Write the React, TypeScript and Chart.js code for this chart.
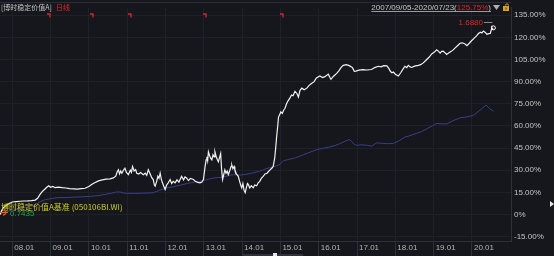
import React, { useEffect, useRef } from 'react';
import { Chart, registerables } from 'chart.js';
Chart.register(...registerables);

// ---------- data ----------
const fundYears = [
  2007.68, 2007.72, 2007.76, 2007.80, 2007.86, 2007.92, 2008.00, 2008.10, 2008.20, 2008.30,
  2008.40, 2008.50, 2008.60, 2008.66, 2008.72, 2008.78, 2008.84, 2008.90, 2008.95, 2009.00,
  2009.06, 2009.12, 2009.20, 2009.30, 2009.40, 2009.50, 2009.60, 2009.70, 2009.80, 2009.90,
  2010.00, 2010.08, 2010.15, 2010.25, 2010.35, 2010.45, 2010.55, 2010.64, 2010.70, 2010.74,
  2010.77, 2010.80, 2010.83, 2010.86, 2010.90, 2010.94, 2010.98, 2011.03, 2011.08, 2011.11,
  2011.14, 2011.18, 2011.22, 2011.25, 2011.30, 2011.35, 2011.42, 2011.47, 2011.51, 2011.55,
  2011.60, 2011.64, 2011.68, 2011.71, 2011.73, 2011.77, 2011.80, 2011.83, 2011.86, 2011.89,
  2011.92, 2011.95, 2011.99, 2012.03, 2012.07, 2012.12, 2012.16, 2012.20, 2012.25, 2012.30,
  2012.35, 2012.42, 2012.47, 2012.51, 2012.55, 2012.60, 2012.65, 2012.73, 2012.78, 2012.84,
  2012.90, 2012.95, 2012.99, 2013.03, 2013.06, 2013.08, 2013.10, 2013.12, 2013.15, 2013.18,
  2013.21, 2013.24, 2013.27, 2013.29, 2013.32, 2013.35, 2013.38, 2013.41, 2013.44, 2013.46,
  2013.49, 2013.52, 2013.55, 2013.58, 2013.61, 2013.64, 2013.68, 2013.71, 2013.73, 2013.76,
  2013.79, 2013.81, 2013.85, 2013.90, 2013.94, 2013.97, 2013.99, 2014.02, 2014.05, 2014.08,
  2014.11, 2014.14, 2014.16, 2014.20, 2014.24, 2014.29, 2014.33, 2014.38, 2014.42, 2014.46,
  2014.50, 2014.55, 2014.60, 2014.65, 2014.70, 2014.73, 2014.78, 2014.81, 2014.85, 2014.88,
  2014.90, 2014.93, 2014.95, 2014.98, 2015.01, 2015.05, 2015.08, 2015.12, 2015.16, 2015.20,
  2015.25, 2015.29, 2015.33, 2015.38, 2015.43, 2015.47, 2015.51, 2015.56, 2015.62, 2015.69,
  2015.75, 2015.82, 2015.88, 2015.94, 2016.03, 2016.10, 2016.16, 2016.22, 2016.25, 2016.29,
  2016.32, 2016.38, 2016.47, 2016.53, 2016.58, 2016.64, 2016.72, 2016.78, 2016.82, 2016.88,
  2016.93, 2016.97, 2017.05, 2017.16, 2017.25, 2017.38, 2017.46, 2017.56, 2017.63, 2017.70,
  2017.78, 2017.83, 2017.87, 2017.91, 2017.95, 2018.00, 2018.08, 2018.14, 2018.20, 2018.25,
  2018.30, 2018.34, 2018.39, 2018.43, 2018.50, 2018.60, 2018.66, 2018.73, 2018.80, 2018.88,
  2018.95, 2019.02, 2019.08, 2019.13, 2019.17, 2019.21, 2019.25, 2019.30, 2019.34, 2019.40,
  2019.46, 2019.51, 2019.57, 2019.63, 2019.69, 2019.75, 2019.82, 2019.87, 2019.93, 2019.99,
  2020.06, 2020.12, 2020.17, 2020.22, 2020.26, 2020.30, 2020.34, 2020.39, 2020.44, 2020.48,
  2020.51, 2020.52, 2020.54, 2020.56,
];
const fundReturn = [
  0, 2.5, 4.5, 5.5, 6.5, 7.5, 8.5, 8.8, 9.0, 9.2,
  9.3, 9.5, 9.8, 11, 13.5, 15.5, 17, 18.5, 19.5, 18.5,
  19, 18.2, 18.6, 18.2, 18.0, 17.6, 17.4, 17.2, 17.5, 17.8,
  19, 20.5, 21.5, 22.8, 23.5, 24.0, 24.2, 24.8, 26, 29,
  30.3, 27.5, 29.5, 28, 30, 31.4, 28.5, 27, 30, 28.5,
  32.5, 29.5, 30.5, 28, 27.5, 28.5, 27, 28, 26.5, 30.3,
  27.5, 25, 23.7, 20, 19.2, 22.5, 26, 24.5, 28, 24,
  21.5, 19.5, 17, 20, 21.5, 23.7, 21, 22.5, 21.5, 23.5,
  22, 25.9, 23.5, 25.5, 24.8, 23, 24.5, 23.7, 22.5, 21.8,
  21.5, 22, 23.7, 32, 37, 39.2, 36.5, 42.5, 40, 38,
  37, 40.5, 39, 42.5, 39.5, 37.5, 35.8, 38.5, 41.3, 32,
  23.7, 27, 30.3, 28, 29.5, 27, 30, 32.5, 33.6, 31,
  32.5, 30.3, 27.5, 25.9, 22, 19.5, 18.1, 21, 16.5, 14.8,
  18, 21, 20.4, 18, 19.5, 18.1, 20, 19.5, 21.5, 22.5,
  24.5, 25.9, 27.5, 28, 29.5, 30.3, 31.5, 32.5, 38, 46,
  52.4, 60, 66, 67.5, 69.5, 68.5, 70.5, 72, 75, 77,
  79, 81, 80.5, 83.4, 82, 79.6, 84, 85.6, 84.5, 85.6,
  87.5, 88.9, 90, 92.5, 93.8, 92.8, 93.4, 94.5, 95.1, 93,
  91.6, 93.5, 95.6, 97.5, 99.5, 101, 101.5, 101, 100.5, 99.5,
  97, 97.1, 97.8, 98.2, 97.9, 98.2, 99.5, 100.4, 100, 100.8,
  100.7, 99, 97, 96, 96.5, 95, 93.8, 96, 98.5, 100.4,
  99.5, 101, 100, 99.6, 100.5, 101, 101.5, 102.7, 104.5, 106.5,
  108.8, 110, 111.5, 110.5, 109.3, 110.5, 110.6, 109.5, 108.4, 109.5,
  110.5, 111.5, 113, 114.5, 116, 116.3, 115.5, 114.4, 116, 117.7,
  119.5, 121, 122.6, 123.5, 123, 124.3, 123.5, 122.1, 122.5, 122.6,
  125.5, 126.6, 125.5, 125.75,
];
const benchYears = [
  2007.68, 2007.75, 2007.85, 2008.00, 2008.15, 2008.30, 2008.45, 2008.55, 2008.65, 2008.75,
  2008.85, 2008.95, 2009.06, 2009.20, 2009.40, 2009.60, 2009.80, 2010.00, 2010.15, 2010.29,
  2010.45, 2010.60, 2010.72, 2010.81, 2010.90, 2010.99, 2011.20, 2011.40, 2011.55, 2011.68,
  2011.85, 2012.03, 2012.20, 2012.40, 2012.60, 2012.80, 2012.90, 2013.05, 2013.20, 2013.35,
  2013.50, 2013.65, 2013.77, 2013.95, 2014.10, 2014.25, 2014.47, 2014.60, 2014.75, 2014.90,
  2014.99, 2015.08, 2015.25, 2015.40, 2015.55, 2015.70, 2015.85, 2015.95, 2016.10, 2016.25,
  2016.43, 2016.55, 2016.70, 2016.80, 2016.86, 2016.93, 2016.99, 2017.10, 2017.25, 2017.38,
  2017.45, 2017.51, 2017.65, 2017.80, 2017.95, 2018.10, 2018.25, 2018.34, 2018.50, 2018.69,
  2018.85, 2019.00, 2019.08, 2019.20, 2019.34, 2019.50, 2019.69, 2019.85, 2020.04, 2020.15,
  2020.25, 2020.37, 2020.45, 2020.56,
];
const benchReturn = [
  0, 1, 2, 3, 4, 4.5, 5.5, 6, 7.5, 9,
  10, 10.5, 11, 11.5, 11.5, 11.8, 12, 12.3, 12.6, 13,
  13.8, 14.5, 15.3, 15.3, 14.6, 14.4, 14.3, 14.5, 14.6, 14.8,
  16.5, 18, 18.8, 20, 21.2, 22.2, 22.5, 23.5, 24.5, 25,
  25.3, 26.5, 27, 26.8, 27.2, 28, 29.5, 30.8, 32, 33,
  34, 36.5, 37.5, 38.5, 40, 41.5, 43, 44, 44.8, 45.5,
  46.8, 48, 49.8, 50.8, 49.5, 47.5, 46.9, 47.2, 47, 46.3,
  47.5, 48.5, 48.3, 48, 48.2, 50, 52.5, 53.1, 54.5, 56.2,
  58.5, 60.5, 61.7, 61.5, 61.3, 63.5, 65.5, 66, 67.2, 69.5,
  71.5, 74.2, 72, 70,
];
const xTickYears = [2008, 2009, 2010, 2011, 2012, 2013, 2014, 2015, 2016, 2017, 2018, 2019, 2020];
const xTickLabels = ['08.01', '09.01', '10.01', '11.01', '12.01', '13.01', '14.01', '15.01', '16.01', '17.01', '18.01', '19.01', '20.01'];
const yTickValues = [-15, 0, 15, 30, 45, 60, 75, 90, 105, 120, 135];
const yTickLabels = ['-15.00%', '0%', '15.00%', '30.00%', '45.00%', '60.00%', '75.00%', '90.00%', '105.00%', '120.00%', '135.00%'];
const dividendYears = [2008.95, 2010.07, 2011.07, 2013.03, 2015.04];
const fundName = '博时稳定价值A';
const periodLabel = '日线';
const benchName = '博时稳定价值A基准 (050106BI.WI)';
const periodText = '2007/09/05-2020/07/23';
const periodReturn = '125.75%';
const lastNav = '1.6880';
const benchNav = '0.7435';

const BG = '#15171c';
const NUM_FONT = '"Liberation Sans", Arial, sans-serif';
const CJK_FONT = '"Noto Sans CJK SC", "Noto Sans", sans-serif';

const overlay = {
  id: 'overlay',
  beforeDraw(chart: any) {
    const { ctx, width, height } = chart;
    ctx.save();
    ctx.fillStyle = BG;
    ctx.fillRect(0, 0, width, height);
    ctx.restore();
  },
  afterDraw(chart: any) {
    const { ctx, chartArea } = chart;
    const xs = chart.scales.x;
    ctx.save();
    // top border
    ctx.strokeStyle = '#2a2d35';
    ctx.lineWidth = 1;
    ctx.beginPath();
    ctx.moveTo(0, 2.5);
    ctx.lineTo(chartArea.right, 2.5);
    ctx.stroke();

    // header
    ctx.textBaseline = 'middle';
    ctx.font = `7px ${CJK_FONT}`;
    ctx.fillStyle = '#c4c4c4';
    const h1 = '[' + fundName + ']';
    ctx.fillText(h1, 1, 7.5);
    const w1 = ctx.measureText(h1).width;
    ctx.fillStyle = '#e0262a';
    ctx.fillText(periodLabel, 1 + w1 + 4, 7.5);

    // period text on right
    ctx.font = `8px ${NUM_FONT}`;
    const parts = [periodText + '(', periodReturn, ')'];
    const widths = parts.map((p) => ctx.measureText(p).width);
    const total = widths.reduce((a, b) => a + b, 0);
    let px = 491 - total;
    const startX = px;
    const colors = ['#c4c4c4', '#e0262a', '#c4c4c4'];
    parts.forEach((p, i) => {
      ctx.fillStyle = colors[i];
      ctx.fillText(p, px, 7.5);
      px += widths[i];
    });
    ctx.strokeStyle = '#9a9a9a';
    ctx.beginPath();
    ctx.moveTo(startX, 11.5);
    ctx.lineTo(491, 11.5);
    ctx.stroke();
    // down triangle
    ctx.fillStyle = '#b0b0b0';
    ctx.beginPath();
    ctx.moveTo(493, 5);
    ctx.lineTo(500, 5);
    ctx.lineTo(496.5, 10);
    ctx.closePath();
    ctx.fill();
    // lock icon
    ctx.fillStyle = '#d9a21c';
    ctx.fillRect(503, 6, 6, 5);
    ctx.strokeStyle = '#d9a21c';
    ctx.beginPath();
    ctx.arc(507, 5.5, 1.6, Math.PI, 0);
    ctx.stroke();
    ctx.fillStyle = '#4a3a10';
    ctx.fillRect(505.5, 7.5, 1, 2);

    // dividend markers
    ctx.strokeStyle = '#e0262a';
    ctx.lineWidth = 1.3;
    dividendYears.forEach((d) => {
      const x = Math.round(xs.getPixelForValue(d)) + 0.5;
      ctx.beginPath();
      ctx.moveTo(x - 2.5, 14);
      ctx.lineTo(x + 0.5, 14);
      ctx.lineTo(x + 0.5, 17.5);
      ctx.stroke();
    });

    // last value label
    ctx.lineWidth = 1;
    const meta = chart.getDatasetMeta(0);
    const lastPt = meta.data[meta.data.length - 1];
    ctx.font = `8px ${NUM_FONT}`;
    ctx.fillStyle = '#e0262a';
    ctx.textAlign = 'right';
    ctx.fillText(lastNav, 483, 23);
    ctx.strokeStyle = '#8a8a8a';
    ctx.beginPath();
    ctx.moveTo(484, 22.5);
    ctx.lineTo(lastPt.x - 1, 22.5);
    ctx.stroke();
    ctx.strokeStyle = '#ffffff';
    ctx.beginPath();
    ctx.arc(lastPt.x, lastPt.y - 1, 2, 0, Math.PI * 2);
    ctx.stroke();

    // benchmark legend
    ctx.textAlign = 'left';
    ctx.font = `8px ${CJK_FONT}`;
    ctx.fillStyle = '#cccc1a';
    ctx.fillText(benchName, 1, 207);
    ctx.font = `8px ${NUM_FONT}`;
    ctx.fillStyle = '#20a84a';
    ctx.fillText(benchNav, 10, 214);
    ctx.strokeStyle = '#ff5a14';
    ctx.lineWidth = 1.2;
    ctx.beginPath();
    ctx.arc(3, 212.5, 2.5, -Math.PI / 2, Math.PI / 2);
    ctx.moveTo(0, 212.5);
    ctx.lineTo(8, 212.5);
    ctx.stroke();

    // right edge marker
    ctx.fillStyle = '#e8e8e8';
    ctx.beginPath();
    ctx.moveTo(550, 201);
    ctx.lineTo(554, 204);
    ctx.lineTo(550, 207);
    ctx.closePath();
    ctx.fill();

    // bottom scroll bar
    ctx.fillStyle = '#30333b';
    ctx.fillRect(243, 254, 60, 2);
    ctx.fillStyle = '#e8e8e8';
    ctx.fillRect(273, 253, 4, 3);
    ctx.restore();
  },
};

export default function App() {
  const ref = useRef<HTMLCanvasElement | null>(null);
  useEffect(() => {
    document.body.style.margin = '0';
    document.body.style.background = BG;
    const canvas = ref.current;
    if (!canvas) return;
    const chart = new Chart(canvas, {
      type: 'line',
      data: {
        datasets: [
          {
            label: fundName,
            data: fundYears.map((x, i) => ({ x, y: fundReturn[i] })),
            borderColor: '#f2f2f2',
            borderWidth: 1.2,
            pointRadius: 0,
            tension: 0,
          },
          {
            label: benchName,
            data: benchYears.map((x, i) => ({ x, y: benchReturn[i] })),
            borderColor: '#3d3d88',
            borderWidth: 1,
            pointRadius: 0,
            tension: 0,
          },
        ],
      },
      options: {
        responsive: false,
        animation: false,
        devicePixelRatio: 1,
        layout: { padding: { top: 3, left: 0, right: 0, bottom: 0 } },
        plugins: { legend: { display: false }, tooltip: { enabled: false } },
        scales: {
          x: {
            type: 'linear',
            min: 2007.679,
            max: 2021.02,
            afterBuildTicks: (axis: any) => {
              axis.ticks = xTickYears.map((v) => ({ value: v }));
            },
            afterFit: (axis: any) => {
              axis.height = 15;
            },
            ticks: {
              autoSkip: false,
              maxRotation: 0,
              align: 'start',
              labelOffset: 2,
              padding: -13,
              color: '#b4b4b4',
              font: { family: NUM_FONT, size: 8 },
              callback: (_v: any, i: number) => xTickLabels[i],
            },
            grid: {
              color: '#1e2127',
              tickColor: '#2c3038',
              tickLength: 15,
              drawTicks: true,
            },
            border: { color: '#2c3038' },
          },
          y: {
            position: 'right',
            min: -17.9,
            max: 140,
            afterBuildTicks: (axis: any) => {
              axis.ticks = yTickValues.map((v) => ({ value: v }));
            },
            afterFit: (axis: any) => {
              axis.width = 43;
            },
            ticks: {
              autoSkip: false,
              padding: 3,
              color: '#c4c4c4',
              font: { family: NUM_FONT, size: 8 },
              callback: (_v: any, i: number) => yTickLabels[i],
            },
            grid: { color: '#1e2127', drawTicks: false },
            border: { color: '#2c3038' },
          },
        },
      },
      plugins: [overlay],
    } as any);
    return () => chart.destroy();
  }, []);
  return (
    <div style={{ width: 554, height: 256, background: BG }}>
      <canvas ref={ref} width={554} height={256} style={{ display: 'block' }} />
    </div>
  );
}
